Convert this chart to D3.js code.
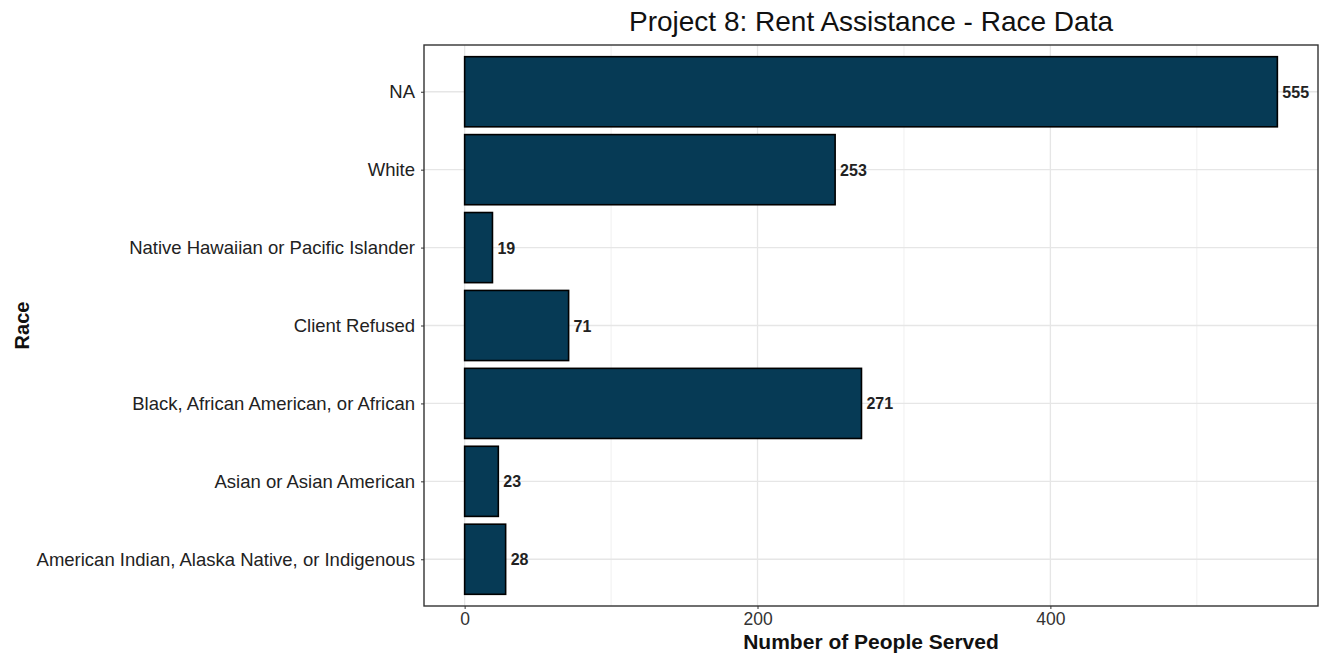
<!DOCTYPE html>
<html><head><meta charset="utf-8">
<script src="https://cdn.jsdelivr.net/npm/d3@7"></script>
<style>body{margin:0;background:#fff;font-family:"Liberation Sans",Arial,sans-serif;}</style>
</head><body><svg id="c" width="1330" height="657"></svg>
<script>
const categories = ["NA","White","Native Hawaiian or Pacific Islander","Client Refused","Black, African American, or African","Asian or Asian American","American Indian, Alaska Native, or Indigenous"];
const values = [555,253,19,71,271,23,28];
const xTicks = [0,200,400];
const xMinor = [100,300,500];

const svg = d3.select("#c");
const L=424, R=1318, T=45, B=606;
const maxV = d3.max(values);
const x = d3.scaleLinear().domain([-maxV*0.05, maxV*1.05]).range([L,R]);
const n = categories.length;
const step = (B-T)/(n-1+1.2);
const y = d3.scalePoint().domain(categories).range([T+0.6*step, B-0.6*step]);
const bw = step*0.9;

// grid
svg.append("g").selectAll("line.minor").data(xMinor).join("line")
  .attr("x1",d=>x(d)).attr("x2",d=>x(d)).attr("y1",T).attr("y2",B)
  .attr("stroke","#f0f0f0").attr("stroke-width",1);
svg.append("g").selectAll("line.maj").data(xTicks).join("line")
  .attr("x1",d=>x(d)).attr("x2",d=>x(d)).attr("y1",T).attr("y2",B)
  .attr("stroke","#e6e6e6").attr("stroke-width",1.3);
svg.append("g").selectAll("line.y").data(categories).join("line")
  .attr("x1",L).attr("x2",R).attr("y1",d=>y(d)).attr("y2",d=>y(d))
  .attr("stroke","#e6e6e6").attr("stroke-width",1.3);

// bars
svg.append("g").selectAll("rect").data(categories).join("rect")
  .attr("x",x(0)).attr("y",d=>y(d)-bw/2)
  .attr("width",(d,i)=>x(values[i])-x(0)).attr("height",bw)
  .attr("fill","#063a55").attr("stroke","#000").attr("stroke-width",1.6);

// value labels
svg.append("g").selectAll("text").data(categories).join("text")
  .attr("x",(d,i)=>x(values[i])+5).attr("y",d=>y(d)+6)
  .attr("font-size",16).attr("font-weight","bold").attr("fill","#222")
  .text((d,i)=>values[i]);

// panel border
svg.append("rect").attr("x",L).attr("y",T).attr("width",R-L).attr("height",B-T)
  .attr("fill","none").attr("stroke","#333").attr("stroke-width",1.4);

// axes
const xa = svg.append("g").attr("transform",`translate(0,${B})`)
  .call(d3.axisBottom(x).tickValues(xTicks).tickSize(3).tickPadding(4));
xa.select(".domain").remove();
xa.selectAll("line").attr("stroke","#333");
xa.selectAll("text").attr("font-size",17.5).attr("fill","#333").attr("font-family","Liberation Sans, Arial, sans-serif");

const ya = svg.append("g").attr("transform",`translate(${L},0)`)
  .call(d3.axisLeft(y).tickSize(3).tickPadding(6));
ya.select(".domain").remove();
ya.selectAll("line").attr("stroke","#333");
ya.selectAll("text").attr("font-size",18.5).attr("fill","#222").attr("font-family","Liberation Sans, Arial, sans-serif");

// titles
svg.append("text").attr("x",(L+R)/2).attr("y",31).attr("text-anchor","middle")
  .attr("font-size",28).attr("fill","#111").text("Project 8: Rent Assistance - Race Data");
svg.append("text").attr("x",(L+R)/2).attr("y",649).attr("text-anchor","middle")
  .attr("font-size",21).attr("font-weight","bold").attr("fill","#111").text("Number of People Served");
svg.append("text").attr("transform",`translate(29,${(T+B)/2}) rotate(-90)`).attr("text-anchor","middle")
  .attr("font-size",20).attr("font-weight","bold").attr("fill","#111").text("Race");
</script></body></html>
